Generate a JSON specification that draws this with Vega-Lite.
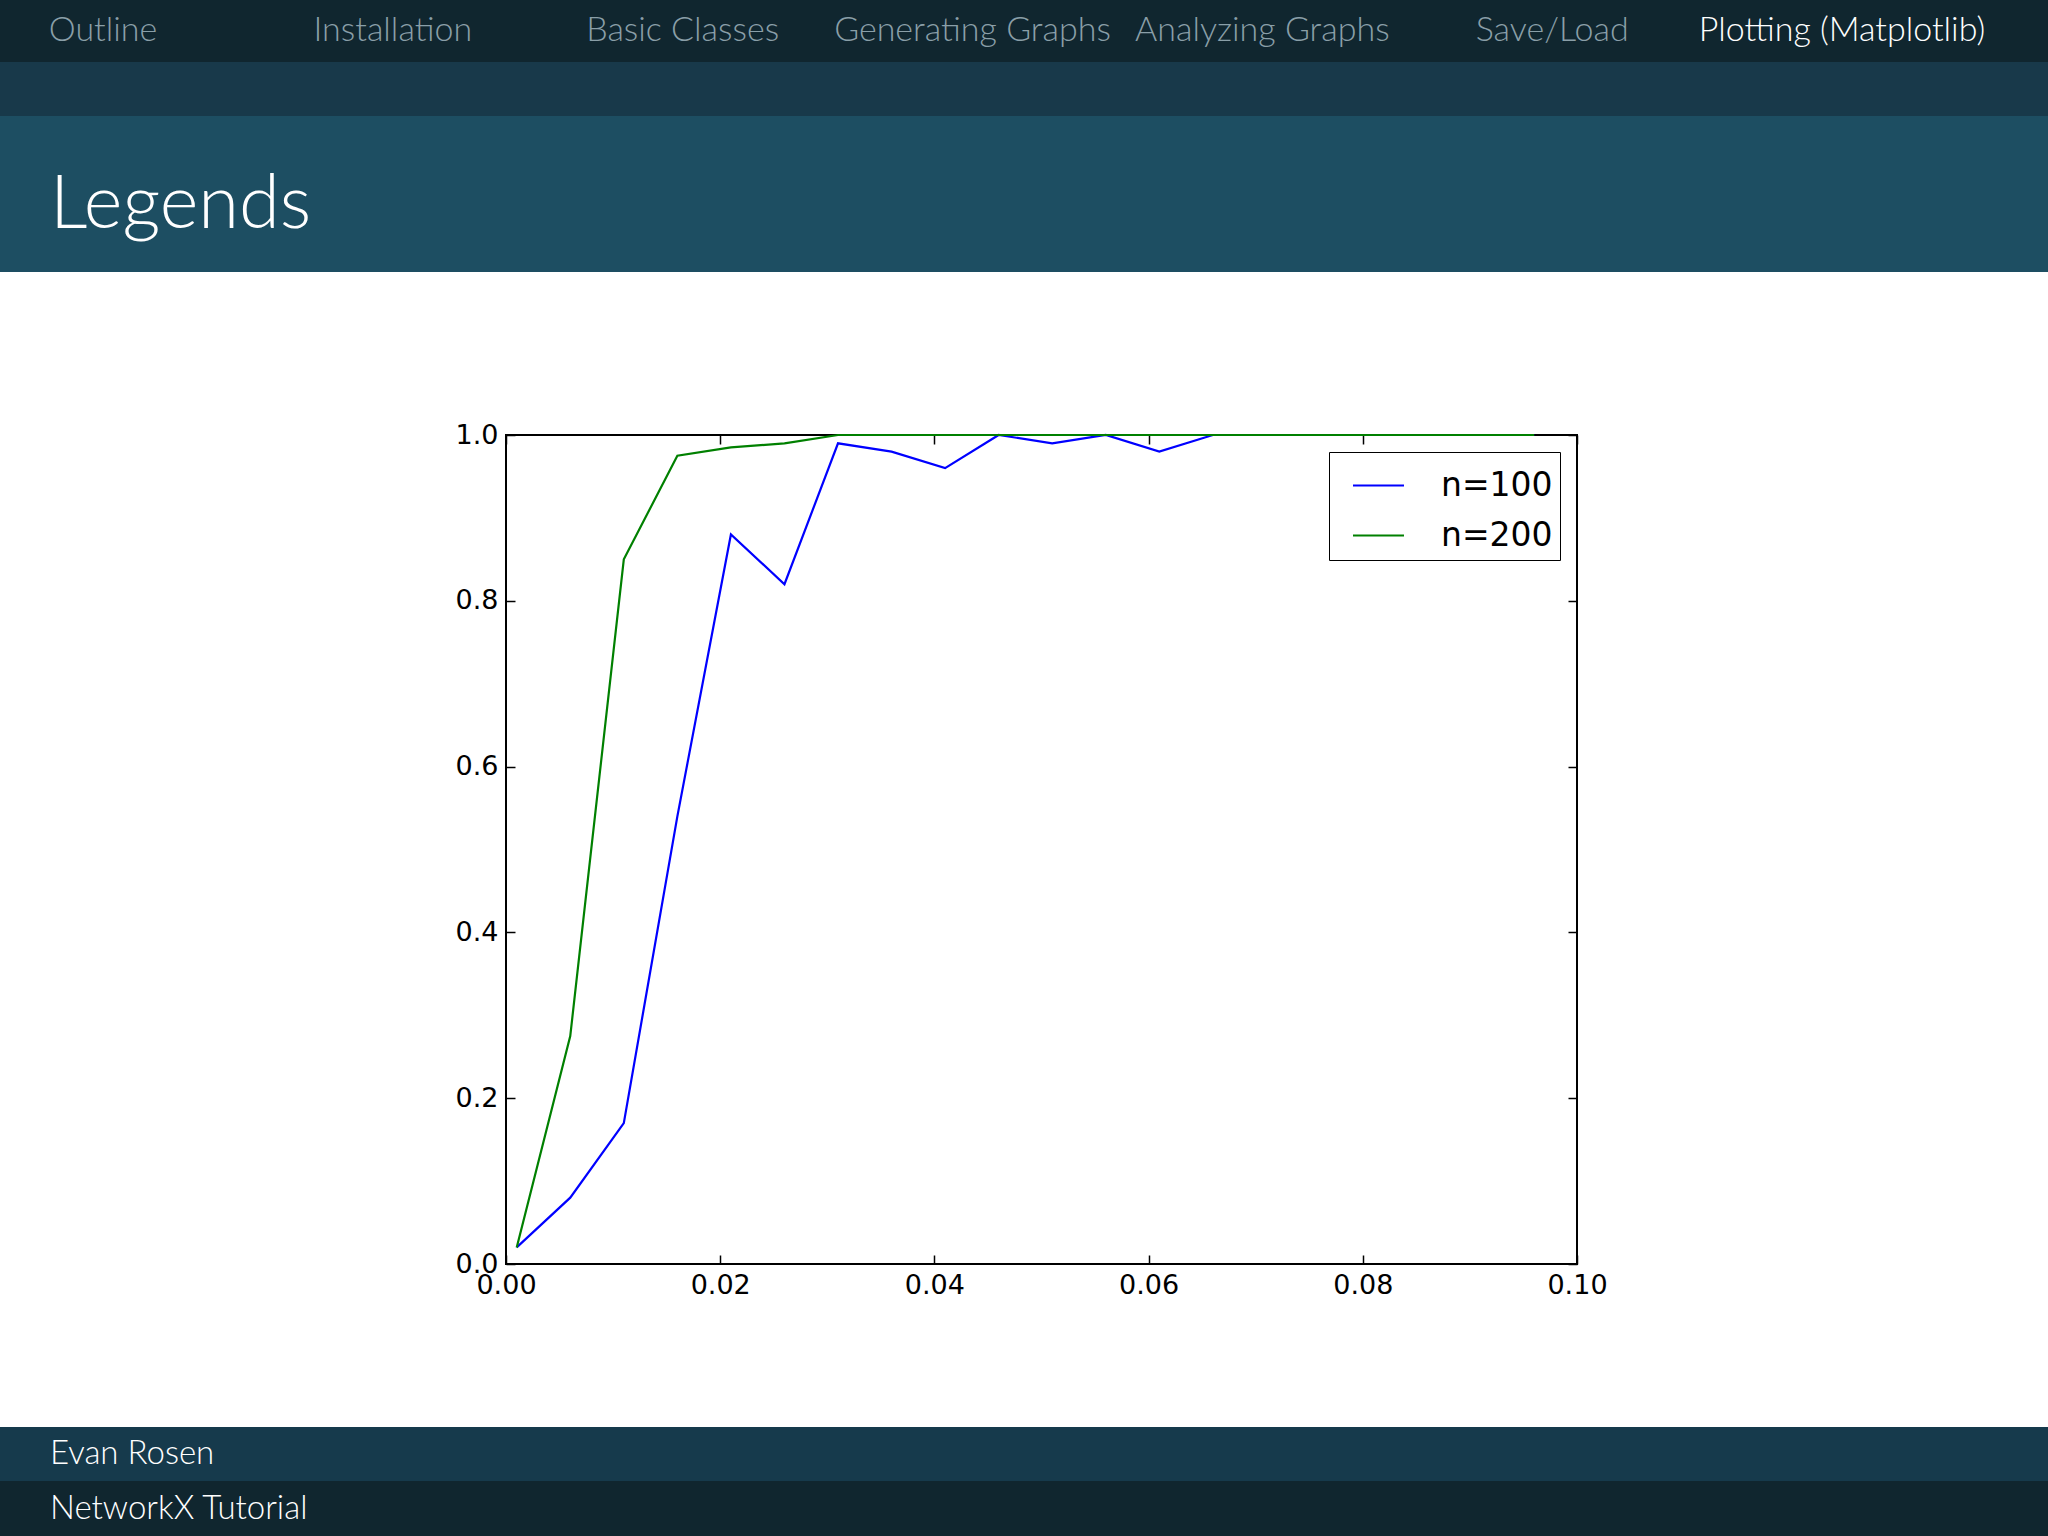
{
  "$schema": "https://vega.github.io/schema/vega-lite/v6.json",
  "background": "white",
  "padding": 0,
  "spacing": 0,
  "config": {
    "view": {"stroke": "black", "strokeWidth": 2},
    "font": "DejaVu Sans"
  },
  "vconcat": [
    {
      "width": 2048,
      "height": 62,
      "view": {"fill": "#10262f", "stroke": null},
      "data": {
        "values": [
          {"section": "Outline", "current": "no"},
          {"section": "Installation", "current": "no"},
          {"section": "Basic Classes", "current": "no"},
          {"section": "Generating Graphs", "current": "no"},
          {"section": "Analyzing Graphs", "current": "no"},
          {"section": "Save/Load", "current": "no"},
          {"section": "Plotting (Matplotlib)", "current": "yes"}
        ]
      },
      "mark": {"type": "text", "font": "Lato", "fontSize": 34, "fontWeight": 300, "baseline": "middle"},
      "encoding": {
        "x": {
          "field": "section",
          "type": "nominal",
          "sort": null,
          "axis": null,
          "scale": {"type": "point", "range": [103, 1842], "padding": 0}
        },
        "text": {"field": "section"},
        "color": {
          "condition": {"test": "datum.current === 'yes'", "value": "#ffffff"},
          "value": "#8a9fa8"
        }
      }
    },
    {
      "width": 2048,
      "height": 54,
      "view": {"fill": "#18394a", "stroke": null},
      "data": {"values": []},
      "mark": "point"
    },
    {
      "width": 2048,
      "height": 156,
      "view": {"fill": "#1d4e62", "stroke": null},
      "data": {"values": [{"frame": "Legends"}]},
      "mark": {"type": "text", "font": "Lato", "fontSize": 74, "fontWeight": 300, "align": "left", "baseline": "middle", "dy": 12, "color": "white"},
      "encoding": {
        "x": {
          "field": "frame",
          "type": "nominal",
          "axis": null,
          "scale": {"type": "point", "range": [50, 2048], "padding": 0, "align": 0}
        },
        "text": {"field": "frame"}
      }
    },
    {
      "width": 2048,
      "height": 148,
      "view": {"stroke": null},
      "data": {"values": []},
      "mark": "point"
    },
    {
      "spacing": 0,
      "resolve": {
        "scale": {"color": "independent"},
        "legend": {"color": "independent"}
      },
      "hconcat": [
        {
          "width": 454,
          "height": 1,
          "view": {"stroke": null},
          "data": {"values": []},
          "mark": "point"
        },
        {
          "width": 1071,
          "height": 829,
          "data": {
            "values": [
              {"p": 0.001, "frac": 0.02, "series": "n=100"},
              {"p": 0.006, "frac": 0.08, "series": "n=100"},
              {"p": 0.011, "frac": 0.17, "series": "n=100"},
              {"p": 0.016, "frac": 0.54, "series": "n=100"},
              {"p": 0.021, "frac": 0.88, "series": "n=100"},
              {"p": 0.026, "frac": 0.82, "series": "n=100"},
              {"p": 0.031, "frac": 0.99, "series": "n=100"},
              {"p": 0.036, "frac": 0.98, "series": "n=100"},
              {"p": 0.041, "frac": 0.96, "series": "n=100"},
              {"p": 0.046, "frac": 1.0, "series": "n=100"},
              {"p": 0.051, "frac": 0.99, "series": "n=100"},
              {"p": 0.056, "frac": 1.0, "series": "n=100"},
              {"p": 0.061, "frac": 0.98, "series": "n=100"},
              {"p": 0.066, "frac": 1.0, "series": "n=100"},
              {"p": 0.071, "frac": 1.0, "series": "n=100"},
              {"p": 0.076, "frac": 1.0, "series": "n=100"},
              {"p": 0.081, "frac": 1.0, "series": "n=100"},
              {"p": 0.086, "frac": 1.0, "series": "n=100"},
              {"p": 0.091, "frac": 1.0, "series": "n=100"},
              {"p": 0.096, "frac": 1.0, "series": "n=100"},
              {"p": 0.001, "frac": 0.02, "series": "n=200"},
              {"p": 0.006, "frac": 0.275, "series": "n=200"},
              {"p": 0.011, "frac": 0.85, "series": "n=200"},
              {"p": 0.016, "frac": 0.975, "series": "n=200"},
              {"p": 0.021, "frac": 0.985, "series": "n=200"},
              {"p": 0.026, "frac": 0.99, "series": "n=200"},
              {"p": 0.031, "frac": 1.0, "series": "n=200"},
              {"p": 0.036, "frac": 1.0, "series": "n=200"},
              {"p": 0.041, "frac": 1.0, "series": "n=200"},
              {"p": 0.046, "frac": 1.0, "series": "n=200"},
              {"p": 0.051, "frac": 1.0, "series": "n=200"},
              {"p": 0.056, "frac": 1.0, "series": "n=200"},
              {"p": 0.061, "frac": 1.0, "series": "n=200"},
              {"p": 0.066, "frac": 1.0, "series": "n=200"},
              {"p": 0.071, "frac": 1.0, "series": "n=200"},
              {"p": 0.076, "frac": 1.0, "series": "n=200"},
              {"p": 0.081, "frac": 1.0, "series": "n=200"},
              {"p": 0.086, "frac": 1.0, "series": "n=200"},
              {"p": 0.091, "frac": 1.0, "series": "n=200"},
              {"p": 0.096, "frac": 1.0, "series": "n=200"}
            ]
          },
          "layer": [
            {
              "mark": {"type": "line", "strokeWidth": 2.2},
              "encoding": {
                "x": {
                  "field": "p",
                  "type": "quantitative",
                  "scale": {"domain": [0, 0.1], "nice": false, "zero": false},
                  "axis": {
                    "orient": "bottom",
                    "title": null,
                    "values": [0, 0.02, 0.04, 0.06, 0.08, 0.1],
                    "format": ".2f",
                    "grid": false,
                    "domain": false,
                    "tickSize": -9,
                    "tickColor": "black",
                    "tickWidth": 1.5,
                    "labelPadding": 17,
                    "labelFont": "DejaVu Sans",
                    "labelFontSize": 27,
                    "labelColor": "black",
                    "labelFlush": false,
                    "labelOverlap": false
                  }
                },
                "y": {
                  "field": "frac",
                  "type": "quantitative",
                  "scale": {"domain": [0, 1], "nice": false},
                  "axis": {
                    "orient": "left",
                    "title": null,
                    "values": [0, 0.2, 0.4, 0.6, 0.8, 1.0],
                    "format": ".1f",
                    "grid": false,
                    "domain": false,
                    "tickSize": -9,
                    "tickColor": "black",
                    "tickWidth": 1.5,
                    "labelPadding": 17,
                    "labelFont": "DejaVu Sans",
                    "labelFontSize": 27,
                    "labelColor": "black",
                    "labelFlush": false,
                    "labelOverlap": false
                  }
                },
                "color": {
                  "field": "series",
                  "type": "nominal",
                  "scale": {"domain": ["n=100", "n=200"], "range": ["#0000ff", "#008000"]},
                  "legend": {
                    "title": null,
                    "orient": "top-right",
                    "offset": 17,
                    "symbolType": "stroke",
                    "symbolSize": 2600,
                    "symbolStrokeWidth": 2,
                    "symbolOffset": 16,
                    "labelFont": "DejaVu Sans",
                    "labelFontSize": 33,
                    "labelColor": "black",
                    "labelOffset": 36,
                    "rowPadding": 6,
                    "padding": 7,
                    "fillColor": "white",
                    "strokeColor": "black",
                    "cornerRadius": 0
                  }
                }
              }
            },
            {
              "mark": {"type": "line", "opacity": 0},
              "encoding": {
                "x": {
                  "field": "p",
                  "type": "quantitative",
                  "axis": {
                    "orient": "top",
                    "title": null,
                    "values": [0, 0.02, 0.04, 0.06, 0.08, 0.1],
                    "labels": false,
                    "grid": false,
                    "domain": false,
                    "tickSize": -9,
                    "tickColor": "black",
                    "tickWidth": 1.5
                  }
                },
                "y": {
                  "field": "frac",
                  "type": "quantitative",
                  "axis": {
                    "orient": "right",
                    "title": null,
                    "values": [0, 0.2, 0.4, 0.6, 0.8, 1.0],
                    "labels": false,
                    "grid": false,
                    "domain": false,
                    "tickSize": -9,
                    "tickColor": "black",
                    "tickWidth": 1.5
                  }
                },
                "detail": {"field": "series"}
              }
            }
          ],
          "resolve": {"axis": {"x": "independent", "y": "independent"}}
        }
      ]
    },
    {
      "width": 2048,
      "height": 128,
      "view": {"stroke": null},
      "data": {"values": []},
      "mark": "point"
    },
    {
      "width": 2048,
      "height": 54,
      "view": {"fill": "#163a4c", "stroke": null},
      "data": {"values": [{"footer": "Evan Rosen"}]},
      "mark": {"type": "text", "font": "Lato", "fontSize": 33, "fontWeight": 300, "align": "left", "baseline": "middle", "color": "white"},
      "encoding": {
        "x": {
          "field": "footer",
          "type": "nominal",
          "axis": null,
          "scale": {"type": "point", "range": [50, 2048], "padding": 0, "align": 0}
        },
        "text": {"field": "footer"}
      }
    },
    {
      "width": 2048,
      "height": 55,
      "view": {"fill": "#10262f", "stroke": null},
      "data": {"values": [{"footer": "NetworkX Tutorial"}]},
      "mark": {"type": "text", "font": "Lato", "fontSize": 33, "fontWeight": 300, "align": "left", "baseline": "middle", "color": "white"},
      "encoding": {
        "x": {
          "field": "footer",
          "type": "nominal",
          "axis": null,
          "scale": {"type": "point", "range": [50, 2048], "padding": 0, "align": 0}
        },
        "text": {"field": "footer"}
      }
    }
  ]
}
